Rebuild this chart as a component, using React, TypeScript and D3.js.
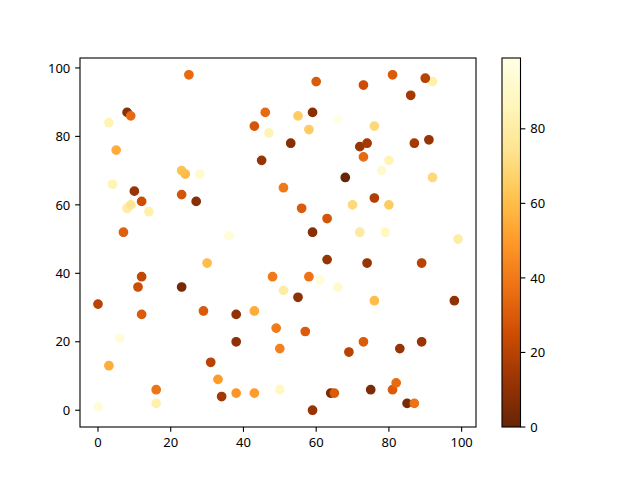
import { useRef, useEffect } from "react";
import * as d3 from "d3";

// scatter points: x, y and colour value
const xs = [0, 0, 3, 3, 4, 5, 6, 7, 8, 9, 8, 9, 10, 11, 12, 12, 12, 14, 16, 16, 23, 24, 23, 23, 25, 27, 28, 29, 30, 31, 33, 34, 36, 38, 38, 38, 43, 43, 43, 45, 46, 47, 48, 49, 50, 50, 51, 51, 53, 55, 55, 56, 57, 58, 58, 59, 59, 59, 60, 61, 63, 63, 64, 65, 66, 66, 68, 69, 70, 72, 72, 73, 73, 74, 73, 74, 75, 76, 76, 76, 78, 79, 80, 80, 81, 81, 82, 83, 85, 86, 87, 87, 89, 89, 92, 90, 92, 98, 99, 91];
const ys = [31, 1, 84, 13, 66, 76, 21, 52, 87, 86, 59, 60, 64, 36, 61, 39, 28, 58, 6, 2, 70, 69, 63, 36, 98, 61, 69, 29, 43, 14, 9, 4, 51, 28, 20, 5, 83, 29, 5, 73, 87, 81, 39, 24, 18, 6, 65, 35, 78, 86, 33, 59, 23, 82, 39, 87, 52, 0, 96, 38, 56, 44, 5, 5, 85, 36, 68, 17, 60, 77, 52, 95, 74, 78, 20, 43, 6, 83, 62, 32, 70, 52, 73, 60, 98, 6, 8, 18, 2, 92, 78, 2, 43, 20, 96, 97, 68, 32, 50, 79];
const cs = [20, 95, 85, 55, 85, 55, 95, 32, 8, 35, 80, 75, 12, 25, 25, 22, 30, 82, 38, 82, 62, 60, 28, 4, 35, 8, 92, 30, 60, 20, 50, 15, 95, 10, 10, 48, 28, 55, 50, 12, 35, 85, 40, 40, 42, 88, 40, 80, 8, 65, 10, 30, 30, 65, 38, 8, 8, 12, 30, 95, 28, 12, 5, 30, 99, 92, 0, 20, 70, 12, 78, 25, 35, 15, 30, 12, 5, 70, 18, 60, 92, 88, 85, 65, 30, 30, 35, 12, 5, 15, 15, 38, 20, 12, 82, 20, 70, 10, 80, 12];

const xTicks = [0, 20, 40, 60, 80, 100];
const yTicks = [0, 20, 40, 60, 80, 100];
const cTicks = [0, 20, 40, 60, 80];

// YlOrBr, reversed
const ylOrBr = ["#ffffe5", "#fff7bc", "#fee391", "#fec44f", "#fe9929", "#ec7014", "#cc4c02", "#993404", "#662506"];

export default function App() {
  const svgRef = useRef<SVGSVGElement>(null);

  useEffect(() => {
    if (!svgRef.current) return;
    const svg = d3.select(svgRef.current);
    svg.selectAll("*").remove();

    const width = 640;
    const height = 480;
    const ax = { left: 80, right: 476, top: 58, bottom: 427 };
    const cb = { left: 502, right: 520.5, top: 58, bottom: 427 };
    const font = "'Noto Sans', 'DejaVu Sans', sans-serif";
    const fs = "13px";
    const tick = 4.86;
    const lw = 1.1;

    svg.attr("width", width).attr("height", height);
    svg.append("rect").attr("width", width).attr("height", height).attr("fill", "white");

    const [x0, x1] = d3.extent(xs) as [number, number];
    const [y0, y1] = d3.extent(ys) as [number, number];
    const mx = (x1 - x0) * 0.05;
    const my = (y1 - y0) * 0.05;

    const x = d3.scaleLinear().domain([x0 - mx, x1 + mx]).range([ax.left, ax.right]);
    const y = d3.scaleLinear().domain([y0 - my, y1 + my]).range([ax.bottom, ax.top]);

    const [c0, c1] = d3.extent(cs) as [number, number];
    const reversed = [...ylOrBr].reverse();
    const color = d3
      .scaleLinear<string>()
      .domain(reversed.map((_, i) => c0 + ((c1 - c0) * i) / (reversed.length - 1)))
      .range(reversed)
      .interpolate(d3.interpolateRgb)
      .clamp(true);

    // points
    const pts = svg.append("g");
    xs.forEach((xv, i) => {
      const c = color(cs[i]);
      pts
        .append("circle")
        .attr("cx", x(xv))
        .attr("cy", y(ys[i]))
        .attr("r", 4.17)
        .attr("fill", c)
        .attr("stroke", c)
        .attr("stroke-width", 1.39);
    });

    // axes frame
    svg
      .append("rect")
      .attr("x", ax.left)
      .attr("y", ax.top)
      .attr("width", ax.right - ax.left)
      .attr("height", ax.bottom - ax.top)
      .attr("fill", "none")
      .attr("stroke", "black")
      .attr("stroke-width", lw);

    // x ticks
    const gx = svg.append("g");
    xTicks.forEach((t) => {
      gx.append("line")
        .attr("x1", x(t)).attr("x2", x(t))
        .attr("y1", ax.bottom).attr("y2", ax.bottom + tick)
        .attr("stroke", "black").attr("stroke-width", lw);
      gx.append("text")
        .attr("x", x(t))
        .attr("y", ax.bottom + tick * 2)
        .attr("dy", "0.76em")
        .attr("text-anchor", "middle")
        .attr("font-family", font)
        .attr("font-size", fs)
        .text(t);
    });

    // y ticks
    const gy = svg.append("g");
    yTicks.forEach((t) => {
      gy.append("line")
        .attr("x1", ax.left - tick).attr("x2", ax.left)
        .attr("y1", y(t)).attr("y2", y(t))
        .attr("stroke", "black").attr("stroke-width", lw);
      gy.append("text")
        .attr("x", ax.left - tick * 2)
        .attr("y", y(t))
        .attr("dy", "0.36em")
        .attr("text-anchor", "end")
        .attr("font-family", font)
        .attr("font-size", fs)
        .text(t);
    });

    // colorbar
    const cy = d3.scaleLinear().domain([c0, c1]).range([cb.bottom, cb.top]);
    const defs = svg.append("defs");
    const grad = defs
      .append("linearGradient")
      .attr("id", "cbar")
      .attr("x1", 0).attr("y1", 1).attr("x2", 0).attr("y2", 0);
    d3.range(0, 1.0001, 0.02).forEach((f) => {
      grad.append("stop")
        .attr("offset", f)
        .attr("stop-color", color(c0 + (c1 - c0) * f));
    });
    svg
      .append("rect")
      .attr("x", cb.left)
      .attr("y", cb.top)
      .attr("width", cb.right - cb.left)
      .attr("height", cb.bottom - cb.top)
      .attr("fill", "url(#cbar)")
      .attr("stroke", "black")
      .attr("stroke-width", lw);

    const gc = svg.append("g");
    cTicks.forEach((t) => {
      gc.append("line")
        .attr("x1", cb.right).attr("x2", cb.right + tick)
        .attr("y1", cy(t)).attr("y2", cy(t))
        .attr("stroke", "black").attr("stroke-width", lw);
      gc.append("text")
        .attr("x", cb.right + tick * 2)
        .attr("y", cy(t))
        .attr("dy", "0.36em")
        .attr("text-anchor", "start")
        .attr("font-family", font)
        .attr("font-size", fs)
        .text(t);
    });
  }, []);

  return (
    <div style={{ position: "absolute", left: 0, top: 0 }}>
      <svg ref={svgRef} />
    </div>
  );
}
